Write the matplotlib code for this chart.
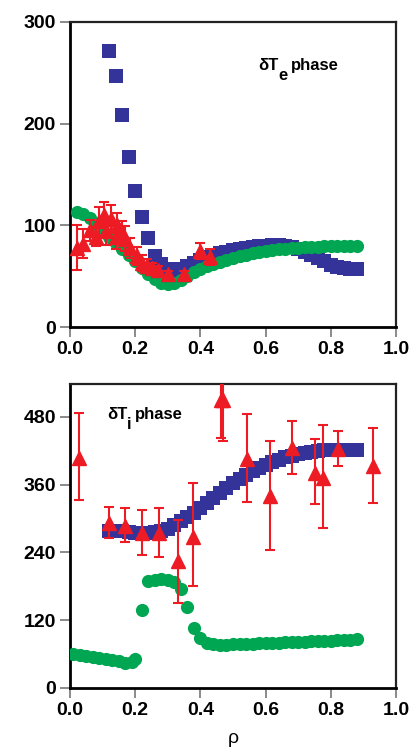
import matplotlib
matplotlib.use("Agg")
import matplotlib.pyplot as plt
from matplotlib.transforms import offset_copy

plt.rcParams['font.family'] = ['Liberation Sans', 'DejaVu Sans']

BLUE = '#333399'
GREEN = '#00a651'
RED = '#ed1c24'

# ---------------- top panel (dTe phase) ----------------
te_blue_x = [0.12, 0.14, 0.16, 0.18, 0.20, 0.22, 0.24, 0.26, 0.28, 0.30, 0.32, 0.34, 0.36,
             0.38, 0.40, 0.42, 0.44, 0.46, 0.48, 0.50, 0.52, 0.54, 0.56, 0.58, 0.60, 0.62,
             0.64, 0.66, 0.68, 0.70, 0.72, 0.74, 0.76, 0.78, 0.80, 0.82, 0.84, 0.86, 0.88]
te_blue_y = [271, 247, 209, 167, 134, 108, 88, 70, 62, 57, 56, 57, 60,
             63, 66, 69, 71, 73, 74, 76, 77, 78, 79, 80, 80, 81,
             81, 80, 79, 77, 74, 71, 68, 65, 61, 59, 58, 57, 57]

te_green_x = [0.02, 0.04, 0.06, 0.08, 0.10, 0.12, 0.14, 0.16, 0.18, 0.20, 0.22, 0.24, 0.26,
              0.28, 0.30, 0.32, 0.34, 0.36, 0.38, 0.40, 0.42, 0.44, 0.46, 0.48, 0.50, 0.52,
              0.54, 0.56, 0.58, 0.60, 0.62, 0.64, 0.66, 0.68, 0.70, 0.72, 0.74, 0.76, 0.78,
              0.80, 0.82, 0.84, 0.86, 0.88]
te_green_y = [113, 111, 107, 101, 95, 89, 83, 77, 71, 65, 58, 52, 47,
              43, 42, 43, 46, 50, 54, 57, 60, 62, 64, 66, 68, 70,
              71, 73, 74, 75, 76, 77, 77, 78, 78, 79, 79, 79, 80,
              80, 80, 80, 80, 80]

te_red_x = [0.02, 0.04, 0.06, 0.08, 0.09, 0.105, 0.11, 0.125, 0.14, 0.145, 0.16, 0.17,
            0.185, 0.205, 0.22, 0.235, 0.25, 0.27, 0.30, 0.35, 0.40, 0.43]
te_red_y = [78, 82, 95, 89, 104, 110, 94, 106, 89, 100, 93, 87,
            78, 70, 63, 60, 58, 56, 52, 52, 75, 69]
te_red_err = [22, 14, 10, 9, 14, 13, 13, 14, 12, 12, 11, 12,
              10, 9, 8, 7, 5, 4, 3, 3, 8, 8]

# ---------------- bottom panel (dTi phase) ----------------
ti_blue_x = te_blue_x
ti_blue_y = [278, 278, 277, 276, 275, 275, 275, 276, 278, 282, 288, 295, 302,
             310, 318, 327, 336, 345, 354, 362, 370, 377, 384, 390, 395, 400,
             404, 408, 411, 414, 416, 418, 420, 421, 421, 422, 422, 422, 422]

ti_green_x = [0.01, 0.03, 0.05, 0.07, 0.09, 0.11, 0.13, 0.15, 0.17, 0.19, 0.20, 0.22,
              0.24, 0.26, 0.28, 0.30, 0.32, 0.34, 0.36, 0.38, 0.40, 0.42, 0.44, 0.46,
              0.48, 0.50, 0.52, 0.54, 0.56, 0.58, 0.60, 0.62, 0.64, 0.66, 0.68, 0.70,
              0.72, 0.74, 0.76, 0.78, 0.80, 0.82, 0.84, 0.86, 0.88]
ti_green_y = [60, 59, 57, 55, 53, 51, 49, 47, 45, 46, 51, 138,
              189, 192, 193, 192, 187, 175, 143, 106, 88, 80, 77, 76,
              76, 77, 77, 78, 78, 79, 79, 80, 80, 81, 81, 82,
              82, 83, 83, 84, 84, 85, 85, 85, 86]

ti_red_x = [0.027, 0.12, 0.17, 0.22, 0.274, 0.332, 0.378, 0.462, 0.468, 0.543,
            0.613, 0.682, 0.75, 0.775, 0.821, 0.93]
ti_red_y = [407, 292, 287, 274, 274, 224, 268, 510, 510, 405,
            339, 424, 380, 371, 423, 392]
ti_red_lo = [333, 265, 258, 236, 232, 150, 180, 442, 437, 329,
             244, 379, 325, 284, 393, 328]
ti_red_hi = [487, 321, 318, 315, 318, 298, 362, 600, 600, 485,
             438, 472, 441, 465, 454, 460]

x_ticks = [0.0, 0.2, 0.4, 0.6, 0.8, 1.0]
x_ticklabels = ['0.0', '0.2', '0.4', '0.6', '0.8', '1.0']
te_yticks = [0, 100, 200, 300]
ti_yticks = [0, 120, 240, 360, 480]

fig = plt.figure(figsize=(4.13, 7.47), dpi=100)
ax1 = fig.add_axes([70 / 413, (747 - 327) / 747, 326 / 413, 305 / 747])
ax2 = fig.add_axes([70 / 413, (747 - 688) / 747, 326 / 413, 304 / 747])


def style(ax, yticks):
    ax.set_xlim(0, 1.0)
    ax.set_xticks(x_ticks)
    ax.set_xticklabels(x_ticklabels)
    ax.set_yticks(yticks)
    ax.set_yticklabels([str(v) for v in yticks])
    ax.tick_params(direction='out', length=7, width=1.2, color='#777777',
                   labelsize=14, pad=3)
    for lab in ax.get_xticklabels() + ax.get_yticklabels():
        lab.set_fontweight('bold')
    for s in ['left', 'bottom']:
        ax.spines[s].set_linewidth(2.0)
        ax.spines[s].set_color('black')
    for s in ['top', 'right']:
        ax.spines[s].set_linewidth(1.6)
        ax.spines[s].set_color('#222222')


def label(ax, x, y, sub):
    # "δT" + lowered subscript + " phase", all bold
    fs = 12
    t1 = ax.text(x, y, 'δT', transform=ax.transAxes, fontsize=fs, fontweight='bold',
                 ha='left', va='baseline')
    fig.canvas.draw()
    r = fig.canvas.get_renderer()
    w1 = t1.get_window_extent(r).width
    tr2 = offset_copy(ax.transAxes, fig=fig, x=w1 * 72 / fig.dpi, y=-7, units='points')
    t2 = ax.text(x, y, sub, transform=tr2, fontsize=fs, fontweight='bold',
                 ha='left', va='baseline')
    w2 = t2.get_window_extent(r).width
    tr3 = offset_copy(ax.transAxes, fig=fig, x=(w1 + w2 + 3) * 72 / fig.dpi, y=0,
                      units='points')
    ax.text(x, y, 'phase', transform=tr3, fontsize=fs, fontweight='bold',
            ha='left', va='baseline')


eb_kw = dict(fmt='^', color=RED, ecolor=RED, markersize=10, markeredgecolor=RED,
             elinewidth=1.5, capsize=3.5, capthick=1.5, zorder=4)

# top
ax1.plot(te_blue_x, te_blue_y, 's', color=BLUE, markersize=10, markeredgewidth=0, zorder=2)
ax1.plot(te_green_x, te_green_y, 'o', color=GREEN, markersize=9.5, markeredgewidth=0, zorder=3)
ax1.errorbar(te_red_x, te_red_y, yerr=te_red_err, **eb_kw)
ax1.set_ylim(0, 300)
style(ax1, te_yticks)

# bottom
ax2.plot(ti_blue_x, ti_blue_y, 's', color=BLUE, markersize=10, markeredgewidth=0, zorder=2)
ax2.plot(ti_green_x, ti_green_y, 'o', color=GREEN, markersize=9.5, markeredgewidth=0, zorder=3)
lo_err = [y - lo for y, lo in zip(ti_red_y, ti_red_lo)]
hi_err = [hi - y for y, hi in zip(ti_red_y, ti_red_hi)]
ax2.errorbar(ti_red_x, ti_red_y, yerr=[lo_err, hi_err], **eb_kw)
ax2.set_ylim(0, 538)
style(ax2, ti_yticks)
ax2.set_xlabel('ρ', fontsize=14, labelpad=8)

label(ax1, 0.577, 0.843, 'e')
label(ax2, 0.113, 0.885, 'i')

fig.savefig('out.png', dpi=100)
